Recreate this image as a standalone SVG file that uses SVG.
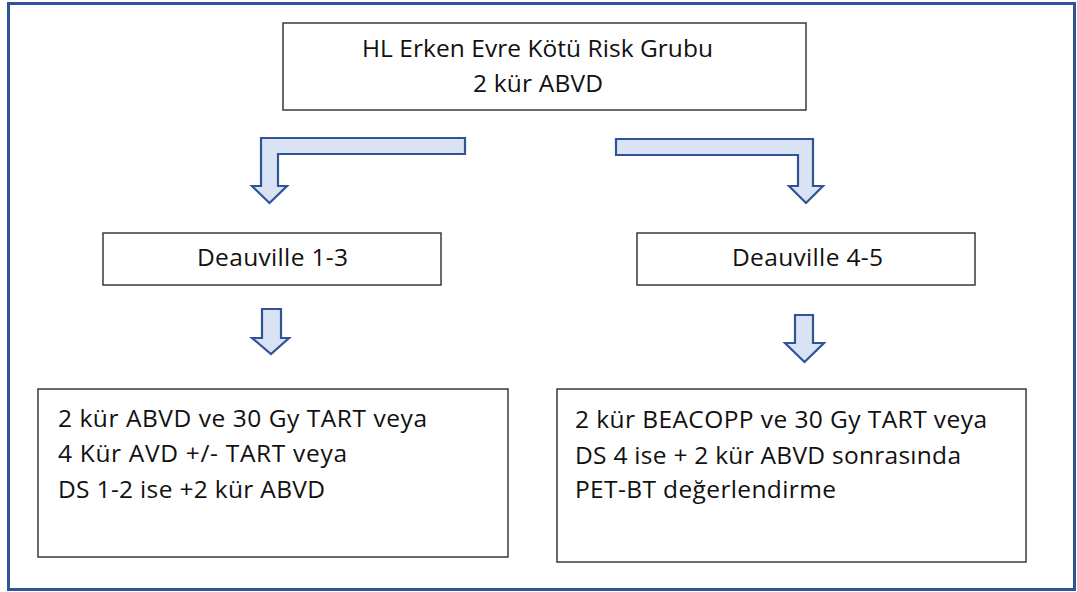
<svg xmlns="http://www.w3.org/2000/svg" width="1077" height="592" viewBox="0 0 1077 592">
  <style>
    .box { fill: #ffffff; stroke: #3a3a3a; stroke-width: 1.5; }
    .arrow { fill: #dae3f3; stroke: #2f5597; stroke-width: 2.2; stroke-linejoin: miter; }
    .frame { fill: none; stroke: #2f5597; stroke-width: 3; }
    text { font-family: "Open Sans", "Noto Sans", "Liberation Sans", sans-serif; font-size: 24.5px; fill: #111111; }
  </style>
  <rect width="1077" height="592" fill="#ffffff"/>
  <rect class="frame" x="8.5" y="3.5" width="1066" height="586"/>

  <g id="top">
    <rect class="box" x="283" y="23" width="523" height="87"/>
    <text x="362" y="57" textLength="351">HL Erken Evre Kötü Risk Grubu</text>
    <text x="473" y="92" textLength="130">2 kür ABVD</text>
  </g>

  <g id="deauville-1-3">
    <rect class="box" x="103" y="233" width="338" height="52"/>
    <text x="197" y="266" textLength="151">Deauville 1-3</text>
  </g>

  <g id="deauville-4-5">
    <rect class="box" x="637" y="233" width="338" height="52"/>
    <text x="732" y="266" textLength="151">Deauville 4-5</text>
  </g>

  <g id="treatment-left">
    <rect class="box" x="38" y="389" width="470" height="168"/>
    <text x="58" y="427" textLength="369">2 kür ABVD ve 30 Gy TART veya</text>
    <text x="58" y="462" textLength="289">4 Kür AVD +/- TART veya</text>
    <text x="58" y="498" textLength="267">DS 1-2 ise +2 kür ABVD</text>
  </g>

  <g id="treatment-right">
    <rect class="box" x="557" y="389" width="469" height="173"/>
    <text x="575" y="428" textLength="412">2 kür BEACOPP ve 30 Gy TART veya</text>
    <text x="575" y="464" textLength="386">DS 4 ise + 2 kür ABVD sonrasında</text>
    <text x="575" y="498" textLength="261">PET-BT değerlendirme</text>
  </g>

  <g id="connectors">
    <!-- bent arrow to the left branch -->
    <path class="arrow" d="M465,138 L261,138 L261,186 L252,186 L269.5,203 L287,186 L278,186 L278,154 L465,154 Z"/>
    <!-- bent arrow to the right branch -->
    <path class="arrow" d="M616,139 L813,139 L813,186 L823,186 L806,203 L789,186 L798,186 L798,155 L616,155 Z"/>
    <!-- straight down arrows -->
    <path class="arrow" d="M262,309 L281,309 L281,338 L289,338 L271,354 L252,338 L262,338 Z"/>
    <path class="arrow" d="M795,315 L813,315 L813,343 L824,343 L804.5,362 L785,343 L795,343 Z"/>
  </g>
</svg>
